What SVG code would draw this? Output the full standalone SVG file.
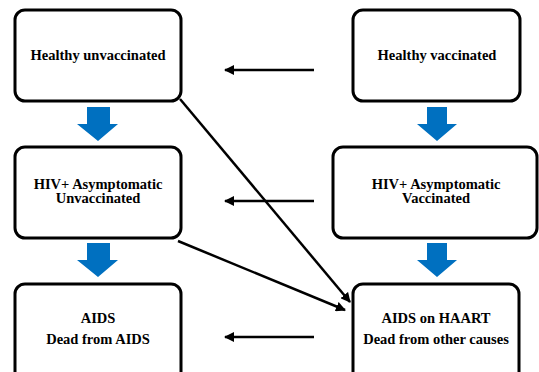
<svg xmlns="http://www.w3.org/2000/svg" width="539" height="372" viewBox="0 0 539 372">
<defs>
<style>
.box{fill:#fff;stroke:#000;stroke-width:3}
.t{font-family:"Liberation Serif","Times New Roman",serif;font-weight:bold;font-size:14.5px;fill:#000;text-anchor:middle}
.blk{stroke:#000;stroke-width:2.5;fill:none;marker-end:url(#ah)}
.blue{fill:#0070C0}
</style>
<marker id="ah" viewBox="0 0 10 10" refX="9" refY="5" markerWidth="4" markerHeight="4" orient="auto" markerUnits="strokeWidth">
<path d="M0,0 L10,5 L0,10 z" fill="#000"/>
</marker>
</defs>
<rect width="539" height="372" fill="#fff"/>
<g id="n1"><rect class="box" x="15" y="10" width="166" height="91" rx="10"/><text class="t" x="98" y="60">Healthy unvaccinated</text></g>
<g id="n2"><rect class="box" x="353" y="10" width="167" height="91" rx="10"/><text class="t" x="437" y="60">Healthy vaccinated</text></g>
<g id="n3"><rect class="box" x="15" y="147" width="166" height="91" rx="10"/><text class="t" x="98" y="189">HIV+ Asymptomatic</text><text class="t" x="98" y="203">Unvaccinated</text></g>
<g id="n4"><rect class="box" x="333" y="147" width="204" height="91" rx="10"/><text class="t" x="436" y="189">HIV+ Asymptomatic</text><text class="t" x="436" y="203">Vaccinated</text></g>
<g id="n5"><rect class="box" x="15" y="284" width="166" height="100" rx="10"/><text class="t" x="98" y="323">AIDS</text><text class="t" x="98" y="344">Dead from AIDS</text></g>
<g id="n6"><rect class="box" x="353" y="284" width="166" height="100" rx="10"/><text class="t" x="436" y="323">AIDS on HAART</text><text class="t" x="436" y="344">Dead from other causes</text></g>
<g id="connectors">
<path class="blue" d="M87,107 H110 V124 H118 L98,141 L77,124 H87 Z"/>
<path class="blue" d="M87,243 H110 V260 H118 L98,277 L77,260 H87 Z"/>
<path class="blue" d="M427,107 H447 V124 H457 L437,141 L417,124 H427 Z"/>
<path class="blue" d="M427,243 H447 V260 H457 L437,277 L417,260 H427 Z"/>
<line class="blk" x1="314" y1="70" x2="225" y2="70"/>
<line class="blk" x1="314" y1="201" x2="225" y2="201"/>
<line class="blk" x1="314" y1="337" x2="225" y2="337"/>
<line class="blk" x1="180" y1="99" x2="350" y2="302"/>
<line class="blk" x1="178" y1="241" x2="345" y2="310"/>
</g>
</svg>
